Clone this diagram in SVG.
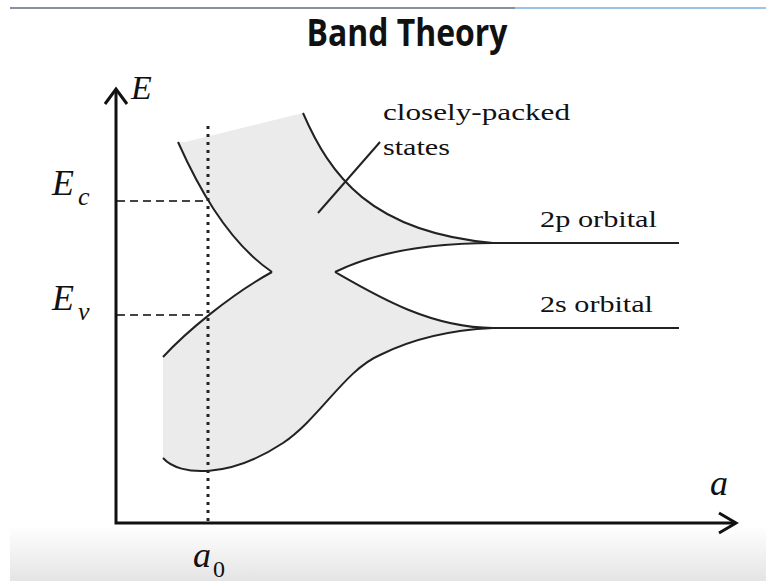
<svg xmlns="http://www.w3.org/2000/svg" width="766" height="581" viewBox="0 0 766 581">
<defs>
<linearGradient id="bot" x1="0" y1="0" x2="0" y2="1">
<stop offset="0" stop-color="#ffffff"/>
<stop offset="1" stop-color="#e4e4e4"/>
</linearGradient>
<style>
.ax{stroke:#111;stroke-width:3;fill:none}
.cv{stroke:#222;stroke-width:2;fill:none}
.dash{stroke:#444;stroke-width:2;stroke-dasharray:8 5;fill:none}
.dot{stroke:#222;stroke-width:3;stroke-dasharray:3 5;fill:none}
.lbl{font-family:"Liberation Serif",serif;fill:#111}
.it{font-family:"Liberation Serif",serif;font-style:italic;fill:#111}
</style>
</defs>
<rect width="766" height="581" fill="#ffffff"/>
<rect x="10" y="526" width="756" height="55" fill="url(#bot)"/>
<line x1="10" y1="8" x2="515" y2="8" stroke="#8a8fa0" stroke-width="2"/>
<line x1="515" y1="8" x2="766" y2="8" stroke="#9cc4e6" stroke-width="2"/>
<text x="407" y="46" text-anchor="middle" font-family="'Open Sans','Liberation Sans',sans-serif" font-weight="bold" font-size="38" textLength="201" lengthAdjust="spacingAndGlyphs" fill="#111">Band Theory</text>

<g id="band">
<path d="M185,142 L303,113 C330,175 370,232 493,243 C440,243 380,250 335,272 C375,295 430,328 493,328 C450,330 410,340 380,355 C345,370 320,418 283,443 C230,478 180,477 163,458 L163,357 C185,333 230,295 272,272 C225,240 195,180 178,142 Z" fill="#ebebeb"/>
</g>

<g id="guides">
<line class="dash" x1="117" y1="201" x2="208" y2="201"/>
<line class="dash" x1="117" y1="315" x2="208" y2="315"/>
<line class="dot" x1="208" y1="126" x2="208" y2="522"/>
</g>

<g id="curves">
<path class="cv" d="M178,142 C195,180 225,240 272,272"/>
<path class="cv" d="M163,357 C185,333 230,295 272,272"/>
<path class="cv" d="M303,113 C330,175 370,232 493,243"/>
<path class="cv" d="M335,272 C380,250 440,243 493,243"/>
<path class="cv" d="M335,272 C375,295 430,328 493,328"/>
<path class="cv" d="M163,458 C180,477 230,478 283,443 C320,418 345,370 380,355 C410,340 450,330 493,328"/>
<line class="cv" x1="493" y1="243" x2="679" y2="243"/>
<line class="cv" x1="493" y1="328" x2="679" y2="328"/>
<line class="cv" x1="318" y1="213" x2="380" y2="142"/>
</g>

<g id="axes">
<polyline class="ax" points="116,89 116,523 736,523"/>
<polyline class="ax" points="105,104 116,89 127,104"/>
<polyline class="ax" points="719,513 736,523 719,533"/>
</g>

<g id="labels">
<text class="it" x="131" y="99" font-size="34">E</text>
<text class="it" x="52" y="195" font-size="36">E</text>
<text class="it" x="78" y="205" font-size="26">c</text>
<text class="it" x="52" y="310" font-size="36">E</text>
<text class="it" x="78" y="320" font-size="26">v</text>
<text class="it" x="710" y="495" font-size="36">a</text>
<text class="it" x="193" y="567" font-size="36">a</text>
<text class="lbl" x="213" y="577" font-size="24">0</text>
<text class="lbl" x="383" y="120" font-size="24" textLength="187" lengthAdjust="spacingAndGlyphs">closely-packed</text>
<text class="lbl" x="383" y="155" font-size="24" textLength="67" lengthAdjust="spacingAndGlyphs">states</text>
<text class="lbl" x="540" y="227" font-size="24" textLength="117" lengthAdjust="spacingAndGlyphs">2p orbital</text>
<text class="lbl" x="540" y="312" font-size="24" textLength="113" lengthAdjust="spacingAndGlyphs">2s orbital</text>
</g>
</svg>
